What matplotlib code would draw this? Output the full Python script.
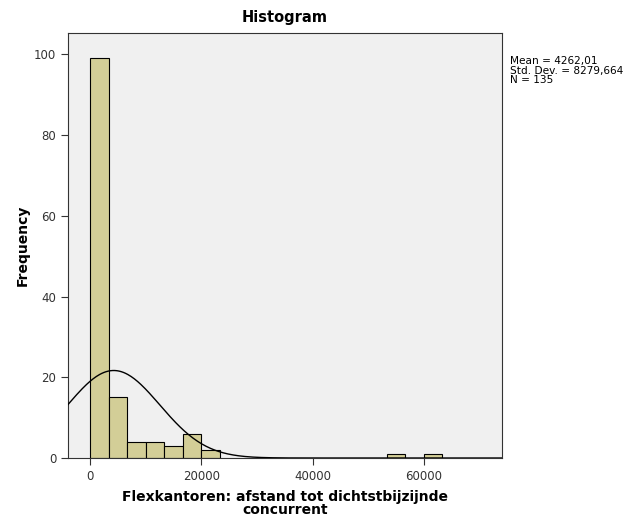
import numpy as np
import matplotlib

matplotlib.use("Agg")
import matplotlib.pyplot as plt

# histogram bins (left edges) and counts
bin_width = 20000 / 6
bin_lefts = [0, 1, 2, 3, 4, 5, 6, 16, 18]  # in bin-width units
counts = [99, 15, 4, 4, 3, 6, 2, 1, 1]

mean = 4262.01
std_dev = 8279.664
n_obs = 135

x_ticks = [0, 20000, 40000, 60000]
y_ticks = [0, 20, 40, 60, 80, 100]

fig = plt.figure(figsize=(6.38, 5.25), dpi=100)
ax = fig.add_axes([0.1066, 0.1276, 0.680, 0.8095])
ax.set_facecolor("#f0f0f0")

lefts = [b * bin_width for b in bin_lefts]
ax.bar(lefts, counts, width=bin_width, align="edge", color="#d3ce97",
       edgecolor="black", linewidth=0.8, zorder=2)

# fitted normal curve scaled to counts
xlim = (-3950, 74000)
xs = np.linspace(xlim[0], xlim[1], 400)
ys = n_obs * bin_width / (std_dev * np.sqrt(2 * np.pi)) * np.exp(-0.5 * ((xs - mean) / std_dev) ** 2)
ax.plot(xs, ys, color="black", linewidth=1.0, zorder=3)

ax.set_xlim(*xlim)
ax.set_ylim(0, 105.3)
ax.set_xticks(x_ticks)
ax.set_yticks(y_ticks)
ax.tick_params(direction="out", length=5, labelsize=8.5, colors="#333333")
for s in ax.spines.values():
    s.set_color("#333333")

ax.set_title("Histogram", fontsize=10.5, fontweight="bold", pad=8)
ax.set_ylabel("Frequency", fontsize=10, fontweight="bold", labelpad=3)
ax.set_xlabel("Flexkantoren: afstand tot dichtstbijzijnde\nconcurrent",
              fontsize=10, fontweight="bold", linespacing=0.9, labelpad=5)

stats = f"Mean = 4262,01\nStd. Dev. = 8279,664\nN = {n_obs}"
fig.text(510 / 638, 1 - 56 / 525, stats, fontsize=7.6, va="top", ha="left",
         linespacing=0.95)

fig.savefig("out.png", dpi=100)
